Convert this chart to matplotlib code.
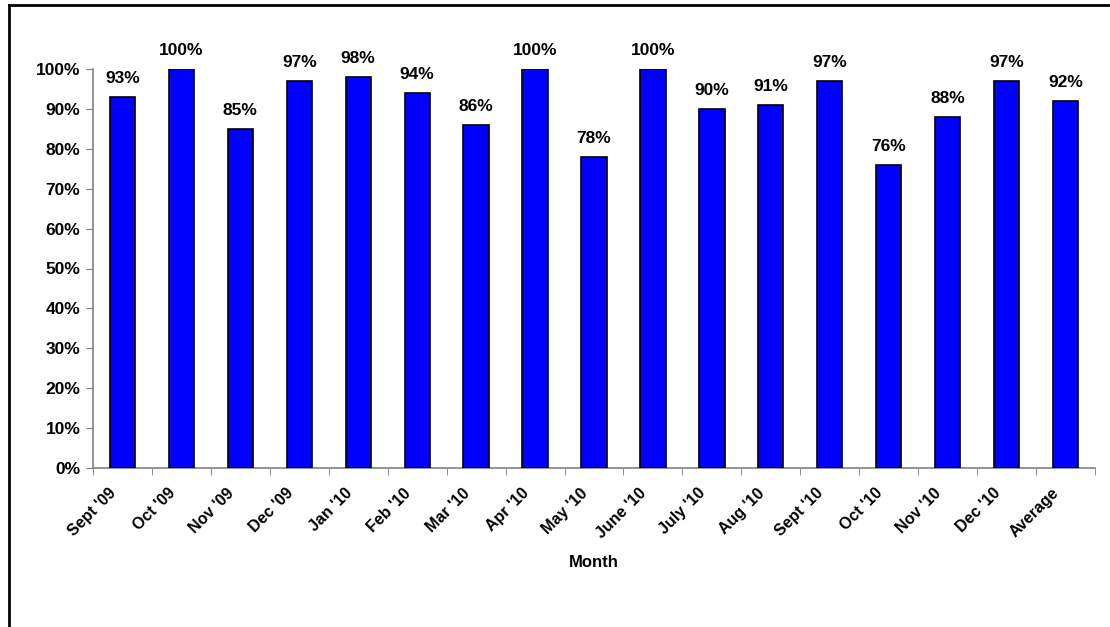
import matplotlib.pyplot as plt
import matplotlib.lines as mlines
import matplotlib.transforms as mtransforms
import numpy as np
from matplotlib.ticker import PercentFormatter

plt.rcParams['font.family'] = ['Liberation Sans', 'DejaVu Sans']
plt.rcParams['font.weight'] = 'bold'

# monthly share, Sept '09 - Dec '10 plus the overall average
months = ["Sept '09", "Oct '09", "Nov '09", "Dec '09", "Jan '10", "Feb '10", "Mar '10",
          "Apr '10", "May '10", "June '10", "July '10", "Aug '10", "Sept '10", "Oct '10",
          "Nov '10", "Dec '10", "Average"]
values = [93, 100, 85, 97, 98, 94, 86, 100, 78, 100, 90, 91, 97, 76, 88, 97, 92]

W, H = 1110, 627
fig = plt.figure(figsize=(W / 100, H / 100), dpi=100)
ax = fig.add_axes([93 / W, 1 - 468 / H, (1095 - 93) / W, (468 - 69) / H])

x = np.arange(len(months))
vals = np.array(values) / 100.0
bars = ax.bar(x, vals, width=0.43, color='#0000FF', edgecolor='black', linewidth=1.2, zorder=3)

for xi, v in zip(x, values):
    ax.annotate(f"{v}%", (xi, v / 100.0), xytext=(0, 8), textcoords='offset points',
                ha='center', va='bottom', fontsize=12.5, fontweight='bold')

ax.set_xlim(-0.5, len(months) - 0.5)
ax.set_ylim(0, 1.0)
ax.set_yticks(np.arange(0, 1.01, 0.1))
ax.yaxis.set_major_formatter(PercentFormatter(1.0, decimals=0))

ax.set_xticks(x)
ax.set_xticklabels(months, rotation=45, ha='right', rotation_mode='anchor')
ax.set_xticks(np.arange(-0.5, len(months), 1.0), minor=True)
ax.tick_params(axis='x', which='major', length=0, pad=9, labelsize=11.5)
ax.tick_params(axis='x', which='minor', length=5, color='#808080', direction='out')
ax.tick_params(axis='y', length=5, color='#808080', labelsize=12.5, pad=4)

# nudge the slanted month names left/down
shift = mtransforms.ScaledTranslation(-14 / 100, -5 / 100, fig.dpi_scale_trans)
for lbl in ax.get_xticklabels():
    lbl.set_transform(lbl.get_transform() + shift)

for side in ['top', 'right']:
    ax.spines[side].set_visible(False)
for side in ['left', 'bottom']:
    ax.spines[side].set_color('#808080')
    ax.spines[side].set_linewidth(1.2)

ax.set_xlabel('Month', fontsize=12, fontweight='bold', labelpad=10)

# outer frame of the chart area (left and top edges)
fig.add_artist(mlines.Line2D([8.5 / W, 8.5 / W], [0, 1 - 5 / H], transform=fig.transFigure,
                             color='black', linewidth=2))
fig.add_artist(mlines.Line2D([8.5 / W, 1], [1 - 5 / H, 1 - 5 / H], transform=fig.transFigure,
                             color='black', linewidth=2))

fig.savefig('out.png', dpi=100, facecolor='white')
